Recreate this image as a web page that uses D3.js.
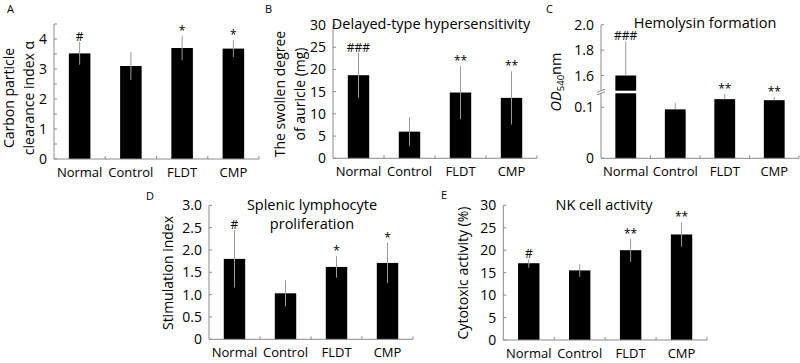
<!DOCTYPE html>
<html><head><meta charset="utf-8">
<script src="https://cdn.jsdelivr.net/npm/d3@7"></script>
<style>
body{margin:0;background:#fff;}
svg{display:block;font-family:"Open Sans",sans-serif;}
</style></head>
<body><svg id="c" width="800" height="363"></svg>
<script>
const categories = ["Normal", "Control", "FLDT", "CMP"];

const carbonMean = [3.52, 3.10, 3.70, 3.68];
const carbonErr  = [0.38, 0.47, 0.41, 0.28];
const carbonSig  = ["#", "", "*", "*"];
const carbonTicks = [0, 0.5, 1, 1.5, 2, 2.5, 3, 3.5, 4, 4.5];
const carbonTickLabels = ["0", "", "1", "", "2", "", "3", "", "4", ""];

const dthMean = [18.7, 6.0, 14.8, 13.6];
const dthErr  = [5.1, 3.2, 6.0, 6.0];
const dthSig  = ["###", "", "**", "**"];
const dthTicks = [0, 5, 10, 15, 20, 25, 30];
const dthTickLabels = ["0", "5", "10", "15", "20", "25", "30"];

const hemoMean = [1.60, 0.096, 0.116, 0.114];
const hemoErr  = [0.27, 0.013, 0.010, 0.006];
const hemoSig  = ["###", "", "**", "**"];
const hemoLowTicks = [0, 0.1];
const hemoLowTickLabels = ["0", "0.1"];
const hemoHighTicks = [1.6, 1.8, 2.0];
const hemoHighTickLabels = ["1.6", "1.8", "2.0"];

const splenMean = [1.80, 1.03, 1.62, 1.71];
const splenErr  = [0.64, 0.29, 0.24, 0.45];
const splenSig  = ["#", "", "*", "*"];
const splenTicks = [0, 0.5, 1, 1.5, 2, 2.5, 3];
const splenTickLabels = ["0", "0.5", "1.0", "1.5", "2.0", "2.5", "3.0"];

const nkMean = [17.1, 15.5, 20.0, 23.5];
const nkErr  = [1.0, 1.4, 2.6, 2.7];
const nkSig  = ["#", "", "**", "**"];
const nkTicks = [0, 5, 10, 15, 20, 25, 30];
const nkTickLabels = ["0", "5", "10", "15", "20", "25", "30"];

const svg = d3.select("#c");
const AXIS = "#8a8a8a", ERR = "#9a9a9a";

function panel(o) {
  const g = svg.append("g");
  const x = d3.scaleBand().domain(categories).range([o.x0, o.x1])
    .paddingInner(0.58).paddingOuter(0.29);
  const y = o.y;
  const yv = v => (o.yHigh && v >= o.highMin) ? o.yHigh(v) : y(v);

  g.selectAll("rect.bar").data(o.mean).join("rect")
    .attr("x", (d, i) => x(categories[i]))
    .attr("width", x.bandwidth())
    .attr("y", d => yv(d))
    .attr("height", d => o.y0 - yv(d))
    .attr("fill", "#000");

  g.selectAll("line.err").data(o.mean).join("line")
    .attr("x1", (d, i) => x(categories[i]) + x.bandwidth() / 2)
    .attr("x2", (d, i) => x(categories[i]) + x.bandwidth() / 2)
    .attr("y1", (d, i) => o.upperOnly ? yv(d) : yv(d - o.err[i]))
    .attr("y2", (d, i) => yv(d + o.err[i]))
    .attr("stroke", ERR).attr("stroke-width", 1);

  g.selectAll("text.sig").data(o.sig).join("text")
    .attr("x", (d, i) => x(categories[i]) + x.bandwidth() / 2)
    .attr("y", (d, i) => yv(o.mean[i] + o.err[i]) - 1)
    .attr("text-anchor", "middle").attr("font-size", 12)
    .text(d => d);

  if (o.breakY) {
    g.append("rect").attr("x", x(categories[0]) - 1).attr("width", x.bandwidth() + 2)
      .attr("y", o.breakY[0]).attr("height", o.breakY[1] - o.breakY[0]).attr("fill", "#fff");
  }

  g.append("line").attr("x1", o.x0).attr("x2", o.x0)
    .attr("y1", o.y0).attr("y2", o.yTop).attr("stroke", AXIS);
  const drawTicks = (scale, ticks, labels) => {
    ticks.forEach((t, i) => {
      const yy = scale(t);
      g.append("line").attr("x1", o.x0).attr("x2", o.x0 + 3)
        .attr("y1", yy).attr("y2", yy).attr("stroke", AXIS);
      if (labels[i]) g.append("text").attr("x", o.x0 - 7).attr("y", yy)
        .attr("dy", "0.36em").attr("text-anchor", "end").attr("font-size", 14)
        .text(labels[i]);
    });
  };
  drawTicks(y, o.ticks, o.tickLabels);
  if (o.yHigh) drawTicks(o.yHigh, o.highTicks, o.highTickLabels);
  if (o.breakY) {
    const b0 = o.breakY[0], b1 = o.breakY[1];
    g.append("rect").attr("x", o.x0 - 4).attr("width", 8).attr("y", b0).attr("height", b1 - b0).attr("fill", "#fff");
    [b0, b1].forEach(b => g.append("line").attr("x1", o.x0 - 4).attr("x2", o.x0 + 4)
      .attr("y1", b + 1.5).attr("y2", b - 1.5).attr("stroke", AXIS));
  }

  g.append("line").attr("x1", o.x0).attr("x2", o.x1)
    .attr("y1", o.y0).attr("y2", o.y0).attr("stroke", AXIS);
  const step = x.step();
  categories.forEach((c, i) => {
    const bx = x(c) - x.paddingInner() * step / 2 + step;
    g.append("line").attr("x1", bx).attr("x2", bx)
      .attr("y1", o.y0).attr("y2", o.y0 - 3).attr("stroke", AXIS);
    g.append("text").attr("x", x(c) + x.bandwidth() / 2).attr("y", o.y0 + 18)
      .attr("text-anchor", "middle").attr("font-size", 13).text(c);
  });

  g.append("text").attr("x", o.letterX).attr("y", o.letterY)
    .attr("font-size", 11).text(o.letter);

  (o.title || []).forEach((t, i) => g.append("text")
    .attr("x", o.titleX).attr("y", o.titleY + i * 19)
    .attr("text-anchor", "middle").attr("font-size", 14.5).text(t));

  const yl = g.append("g").attr("transform", `translate(${o.ylX},${o.ylY}) rotate(-90)`);
  if (o.ylRich) o.ylRich(yl);
  else o.ylabel.forEach((t, i) => yl.append("text").attr("x", 0).attr("y", i * 20)
    .attr("text-anchor", "middle").attr("font-size", 14).text(t));
}

panel({
  letter: "A", letterX: 7, letterY: 13,
  x0: 54, x1: 259, y0: 159, yTop: 24,
  y: d3.scaleLinear().domain([0, 4.5]).range([159, 24]),
  mean: carbonMean, err: carbonErr, sig: carbonSig,
  ticks: carbonTicks, tickLabels: carbonTickLabels,
  ylabel: ["Carbon particle", "clearance index α"], ylX: 14, ylY: 98
});

panel({
  letter: "B", letterX: 265, letterY: 13,
  x0: 333, x1: 537, y0: 158.3, yTop: 25,
  y: d3.scaleLinear().domain([0, 30]).range([158.3, 25]),
  mean: dthMean, err: dthErr, sig: dthSig,
  ticks: dthTicks, tickLabels: dthTickLabels,
  title: ["Delayed-type hypersensitivity"], titleX: 431, titleY: 28.5,
  ylabel: ["The swollen degree", "of auricle (mg)"], ylX: 285, ylY: 94
});

panel({
  letter: "C", letterX: 546, letterY: 13,
  x0: 601, x1: 799, y0: 158.3, yTop: 24.8,
  y: d3.scaleLinear().domain([0, 0.1275]).range([158.3, 93.3]),
  yHigh: d3.scaleLinear().domain([1.48, 2.0]).range([90.7, 24.8]), highMin: 1,
  breakY: [90.7, 93.3],
  mean: hemoMean, err: hemoErr, sig: hemoSig, upperOnly: true,
  ticks: hemoLowTicks, tickLabels: hemoLowTickLabels,
  highTicks: hemoHighTicks, highTickLabels: hemoHighTickLabels,
  title: ["Hemolysin formation"], titleX: 705, titleY: 28,
  ylX: 561, ylY: 82,
  ylRich: g => {
    const t = g.append("text").attr("text-anchor", "middle").attr("font-size", 14.5);
    t.append("tspan").attr("font-style", "italic").text("OD");
    t.append("tspan").attr("font-size", 9.5).attr("dy", 3).text("540");
    t.append("tspan").attr("dy", -3).text("nm");
  }
});

panel({
  letter: "D", letterX: 146, letterY: 200,
  x0: 209, x1: 413, y0: 339.3, yTop: 205.3,
  y: d3.scaleLinear().domain([0, 3]).range([339.3, 205.3]),
  mean: splenMean, err: splenErr, sig: splenSig,
  ticks: splenTicks, tickLabels: splenTickLabels,
  title: ["Splenic lymphocyte", "proliferation"], titleX: 312, titleY: 209.5,
  ylabel: ["Stimulation index"], ylX: 173, ylY: 273
});

panel({
  letter: "E", letterX: 441, letterY: 199,
  x0: 503.3, x1: 707, y0: 340, yTop: 205.3,
  y: d3.scaleLinear().domain([0, 30]).range([340, 205.3]),
  mean: nkMean, err: nkErr, sig: nkSig,
  ticks: nkTicks, tickLabels: nkTickLabels,
  title: ["NK cell activity"], titleX: 604, titleY: 209.5,
  ylabel: ["Cytotoxic activity (%)"], ylX: 468, ylY: 273
});
</script></body></html>
